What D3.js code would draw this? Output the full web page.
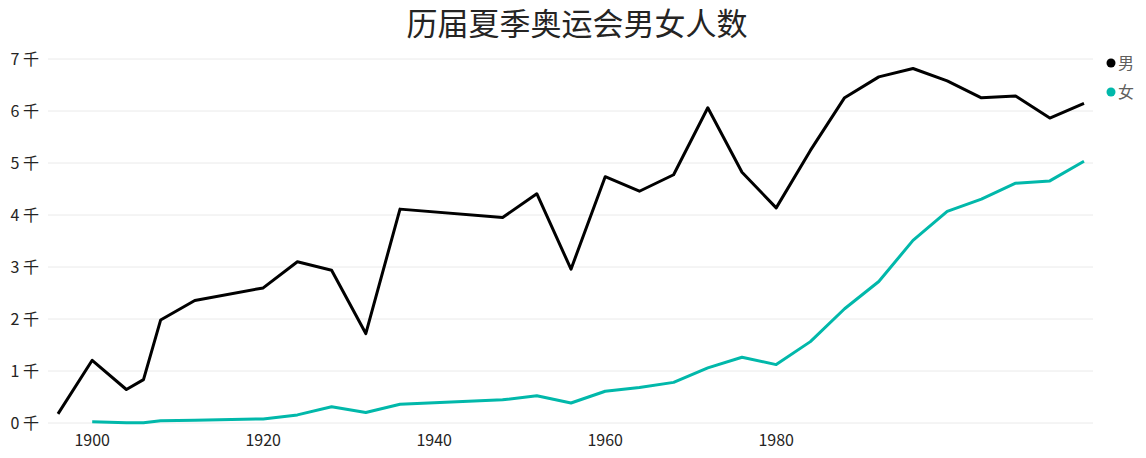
<!DOCTYPE html><html><head><meta charset="utf-8">
<script src="https://cdn.jsdelivr.net/npm/d3@7"></script>
<style>body{margin:0;background:#fff;font-family:"Noto Sans CJK SC","Segoe UI",sans-serif}</style></head><body>
<svg id="c" width="1146" height="458"></svg>
<script>
const years=[1896,1900,1904,1906,1908,1912,1920,1924,1928,1932,1936,1948,1952,1956,1960,1964,1968,1972,1976,1980,1984,1988,1992,1996,2000,2004,2008,2012,2016];
const men=[176,1206,644,835,1980,2356,2598,3100,2937,1720,4113,3952,4409,2958,4736,4457,4774,6062,4822,4137,5242,6256,6656,6817,6580,6253,6290,5864,6146];
const women=[null,23,6,6,44,53,78,156,312,201,361,445,525,384,610,683,781,1061,1265,1123,1565,2197,2721,3512,4069,4306,4611,4656,5034];
const xTicks=[1900,1920,1940,1960,1980];
const yTicks=[0,1000,2000,3000,4000,5000,6000,7000];
const series=[{name:"男",vals:men,color:"#000000"},{name:"女",vals:women,color:"#01B8AA"}];
const svg=d3.select("#c");
const x=d3.scaleLinear().domain([1896,2016]).range([58,1084]);
const y=d3.scaleLinear().domain([0,7000]).range([423,59]);
svg.append("text").attr("x",577).attr("y",35).attr("text-anchor","middle").attr("font-size",31).attr("fill","#252423").text("历届夏季奥运会男女人数");
const g=svg.append("g");
yTicks.forEach(t=>{
 g.append("line").attr("x1",48).attr("x2",1093).attr("y1",y(t)).attr("y2",y(t)).attr("stroke","#eaeaea").attr("stroke-width",1);
 g.append("text").attr("x",39).attr("y",y(t)+6).attr("text-anchor","end").attr("font-size",16).attr("fill","#252423").text(t/1000+" 千");
});
xTicks.forEach(t=>{
 g.append("text").attr("x",x(t)).attr("y",446).attr("text-anchor","middle").attr("font-size",16).attr("fill","#252423").text(t);
});
series.forEach(s=>{
 const line=d3.line().defined(d=>d[1]!=null).x(d=>x(d[0])).y(d=>y(d[1]));
 svg.append("path").datum(years.map((yr,i)=>[yr,s.vals[i]])).attr("d",line).attr("fill","none").attr("stroke",s.color).attr("stroke-width",3).attr("stroke-linejoin","round");
});
series.forEach((s,i)=>{
 const yy=63+i*29;
 svg.append("circle").attr("cx",1111).attr("cy",yy).attr("r",4.5).attr("fill",s.color);
 svg.append("text").attr("x",1118).attr("y",yy+6).attr("font-size",16).attr("fill","#605E5C").text(s.name);
});
</script></body></html>
